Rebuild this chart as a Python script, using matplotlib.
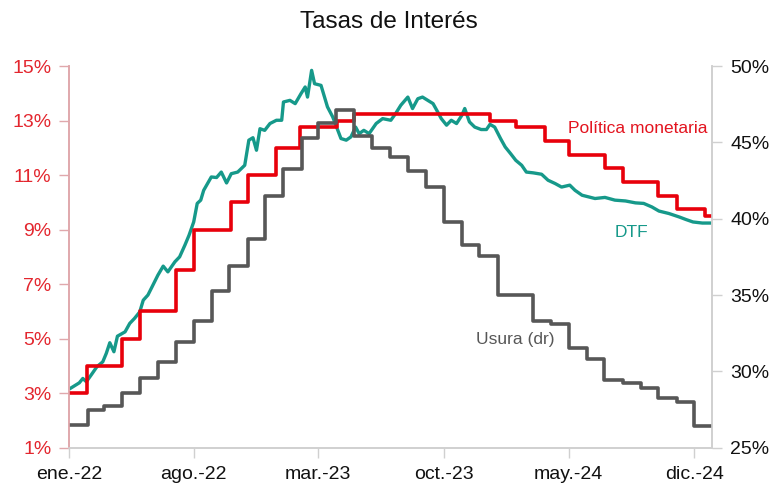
import numpy as np
import pandas as pd
import matplotlib
matplotlib.use("Agg")
import matplotlib.pyplot as plt
from matplotlib.ticker import FuncFormatter

plt.rcParams['font.family'] = ['Liberation Sans', 'DejaVu Sans']

# Política monetaria (%), fechas de cambio
tpm_fechas = ["2022-01-01", "2022-01-31", "2022-04-01", "2022-05-02", "2022-07-01",
              "2022-08-01", "2022-10-03", "2022-11-01", "2022-12-19", "2023-01-30",
              "2023-04-03", "2023-05-02", "2023-12-19", "2024-02-01", "2024-03-22",
              "2024-05-02", "2024-07-02", "2024-08-01", "2024-10-01", "2024-11-01",
              "2024-12-20", "2024-12-31"]
tpm_valores = [3.0, 4.0, 5.0, 6.0, 7.5, 9.0, 10.0, 11.0, 12.0, 12.75,
               13.0, 13.25, 13.0, 12.75, 12.25, 11.75, 11.25, 10.75, 10.25, 9.75,
               9.5, 9.5]

# Usura (%), mensual, eje derecho
usura_fechas = pd.date_range("2022-01-01", "2025-01-01", freq="MS")
usura_valores = [26.49, 27.45, 27.71, 28.58, 29.57, 30.60, 31.92, 33.32, 35.25, 36.92,
                 38.67, 41.46, 43.26, 45.27, 46.26, 47.09, 45.41, 44.64, 44.04, 43.13,
                 42.05, 39.80, 38.28, 37.56, 34.98, 34.97, 33.30, 33.09, 31.53, 30.84,
                 29.43, 29.21, 28.88, 28.23, 27.97, 26.42, 26.42]

# DTF (%)
dtf_fechas = ["2022-01-03", "2022-01-18", "2022-01-24", "2022-01-30", "2022-02-07",
              "2022-02-17", "2022-02-27", "2022-03-05", "2022-03-11", "2022-03-18",
              "2022-03-24", "2022-04-06", "2022-04-14", "2022-04-22", "2022-05-01",
              "2022-05-07", "2022-05-15", "2022-05-22", "2022-06-01", "2022-06-10",
              "2022-06-18", "2022-06-30", "2022-07-08", "2022-07-17", "2022-07-24",
              "2022-08-01", "2022-08-07", "2022-08-13", "2022-08-18", "2022-08-31",
              "2022-09-09", "2022-09-17", "2022-09-26", "2022-10-04", "2022-10-15",
              "2022-10-27", "2022-11-03", "2022-11-10", "2022-11-16", "2022-11-22",
              "2022-11-30", "2022-12-09", "2022-12-20", "2022-12-29", "2023-01-01",
              "2023-01-12", "2023-01-21", "2023-01-31", "2023-02-07", "2023-02-11",
              "2023-02-18", "2023-02-23", "2023-03-06", "2023-03-17", "2023-03-26",
              "2023-04-09", "2023-04-18", "2023-04-26", "2023-05-04", "2023-05-10",
              "2023-05-18", "2023-05-27", "2023-06-08", "2023-06-19", "2023-07-03",
              "2023-07-11", "2023-07-20", "2023-08-01", "2023-08-09", "2023-08-18",
              "2023-08-26", "2023-09-04", "2023-09-13", "2023-09-21", "2023-09-27",
              "2023-10-06", "2023-10-14", "2023-10-23", "2023-11-01", "2023-11-06",
              "2023-11-14", "2023-11-23", "2023-12-04", "2023-12-13", "2023-12-19",
              "2023-12-27", "2024-01-06", "2024-01-14", "2024-01-23", "2024-02-01",
              "2024-02-11", "2024-02-19", "2024-03-02", "2024-03-16", "2024-03-27",
              "2024-04-08", "2024-04-19", "2024-05-03", "2024-05-12", "2024-05-24",
              "2024-06-04", "2024-06-15", "2024-07-02", "2024-07-19", "2024-08-06",
              "2024-08-23", "2024-09-06", "2024-09-20", "2024-10-02", "2024-10-19",
              "2024-11-06", "2024-11-17", "2024-11-29", "2024-12-15", "2024-12-31"]
dtf_valores = [3.18, 3.38, 3.54, 3.42, 3.66, 3.97, 4.15, 4.46, 4.85, 4.52,
               5.09, 5.25, 5.56, 5.74, 5.98, 6.41, 6.60, 6.90, 7.33, 7.66,
               7.45, 7.82, 8.00, 8.43, 8.79, 9.28, 9.96, 10.08, 10.44, 10.93,
               10.91, 11.11, 10.71, 11.05, 11.11, 11.36, 12.28, 12.37, 11.91, 12.70,
               12.64, 12.89, 13.01, 13.01, 13.68, 13.74, 13.62, 13.99, 14.23, 13.86,
               14.84, 14.35, 14.29, 13.50, 13.13, 12.34, 12.28, 12.40, 12.76, 12.52,
               12.64, 12.52, 12.89, 13.07, 13.01, 13.25, 13.56, 13.86, 13.44, 13.80,
               13.86, 13.74, 13.62, 13.31, 13.07, 12.83, 13.01, 12.89, 13.19, 13.44,
               12.95, 12.76, 12.67, 12.67, 12.86, 12.76, 12.34, 12.03, 11.79, 11.54,
               11.36, 11.11, 11.08, 11.03, 10.81, 10.69, 10.56, 10.63, 10.44, 10.26,
               10.20, 10.14, 10.18, 10.08, 10.05, 9.98, 9.96, 9.83, 9.68, 9.59,
               9.46, 9.37, 9.28, 9.24, 9.24]

xtick_fechas = ["2022-01-01", "2022-08-01", "2023-03-01", "2023-10-01", "2024-05-01", "2024-12-01"]
xtick_labels = ["ene.-22", "ago.-22", "mar.-23", "oct.-23", "may.-24", "dic.-24"]

ROJO = "#e8000b"
TEAL = "#16998a"
GRIS = "#575757"
SPINE = "#d0d0d0"

fig = plt.figure(figsize=(7.72, 4.9), dpi=100)
ax = fig.add_axes([0.0898, 0.0863, 0.8329, 0.779])
ax2 = ax.twinx()

ax.plot(pd.to_datetime(dtf_fechas), dtf_valores, color=TEAL, lw=2.4, zorder=2)
ax.step(pd.to_datetime(tpm_fechas), tpm_valores, where="post", color=ROJO, lw=2.6, zorder=3)
ax2.step(usura_fechas, usura_valores, where="post", color=GRIS, lw=2.6)

ax.set_xlim(pd.Timestamp("2022-01-01"), pd.Timestamp("2025-01-01"))
ax.set_ylim(1, 15)
ax2.set_ylim(25, 50)
ax.set_yticks(np.arange(1, 16, 2))
ax2.set_yticks(np.arange(25, 51, 5))
ax.yaxis.set_major_formatter(FuncFormatter(lambda v, p: f"{v:.0f}%"))
ax2.yaxis.set_major_formatter(FuncFormatter(lambda v, p: f"{v:.0f}%"))
ax.set_xticks(pd.to_datetime(xtick_fechas))
ax.set_xticklabels(xtick_labels)

for a in (ax, ax2):
    a.spines["top"].set_visible(False)
    a.spines["bottom"].set_color(SPINE)
    a.spines["right"].set_color(SPINE)
    a.spines["left"].set_color("#e0a8ac")
    for s in a.spines.values():
        s.set_linewidth(1.2)

ax.tick_params(axis="x", direction="out", length=7, width=1, color=SPINE,
               labelsize=14, labelcolor="#111111", pad=6)
ax.tick_params(axis="y", direction="out", length=7, width=1, color="#e0a8ac",
               labelsize=14, labelcolor="#e3262e", pad=6)
ax2.tick_params(axis="y", direction="out", length=7, width=1, color=SPINE,
                labelsize=14, labelcolor="#111111", pad=6)

fig.text(0.504, 0.955, "Tasas de Interés", ha="center", va="center", fontsize=17.5, color="#111111")

ax.text(pd.Timestamp("2024-04-30"), 12.71, "Política monetaria", color="#e3141f",
        fontsize=12.5, va="center", ha="left")
ax.text(pd.Timestamp("2024-07-19"), 8.9, "DTF", color=TEAL, fontsize=12.5, va="center", ha="left")
ax.text(pd.Timestamp("2023-11-26"), 4.98, "Usura (dr)", color=GRIS, fontsize=12.5, va="center", ha="left")

fig.savefig("out.png", dpi=100)
